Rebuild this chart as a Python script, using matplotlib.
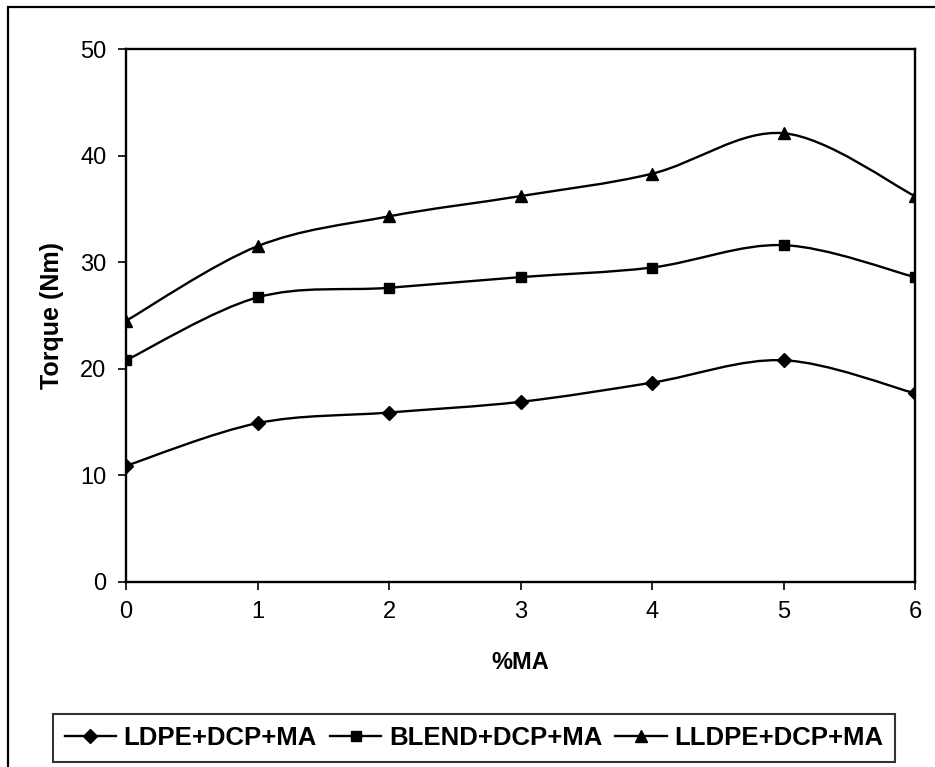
import matplotlib
matplotlib.use("Agg")
from matplotlib import pyplot as plt
from matplotlib.path import Path
from matplotlib.patches import PathPatch, Rectangle
from matplotlib.lines import Line2D
import numpy as np

plt.rcParams['font.family'] = ['Liberation Sans', 'DejaVu Sans']

ma = [0, 1, 2, 3, 4, 5, 6]
ldpe = [10.9, 14.9, 15.9, 16.9, 18.7, 20.8, 17.7]
blend = [20.8, 26.7, 27.6, 28.6, 29.5, 31.6, 28.6]
lldpe = [24.5, 31.5, 34.3, 36.2, 38.3, 42.1, 36.2]

series = [
    ("LDPE+DCP+MA", ldpe, 'D', 7),
    ("BLEND+DCP+MA", blend, 's', 7),
    ("LLDPE+DCP+MA", lldpe, '^', 8),
]


def smooth_path(x, y):
    """ Excel style smoothed line as cubic bezier segments """
    pts = np.column_stack([x, y]).astype(float)
    n = len(pts)
    verts = [pts[0]]
    codes = [Path.MOVETO]
    for i in range(n - 1):
        p0 = pts[i - 1] if i > 0 else pts[i]
        p1 = pts[i]
        p2 = pts[i + 1]
        p3 = pts[i + 2] if i + 2 < n else pts[i + 1]
        c1 = p1 + (p2 - p0) / 6
        c2 = p2 - (p3 - p1) / 6
        verts += [c1, c2, p2]
        codes += [Path.CURVE4] * 3
    return Path(verts, codes)


fig = plt.figure(figsize=(9.35, 7.67), dpi=100)
ax = fig.add_axes([126 / 935, 1 - 582 / 767, (915 - 126) / 935, (582 - 49) / 767])

handles = []
for name, vals, mk, ms in series:
    ax.add_patch(PathPatch(smooth_path(ma, vals), facecolor='none', edgecolor='black', lw=1.7))
    ax.plot(ma, vals, linestyle='none', marker=mk, markersize=ms, color='black')
    handles.append(Line2D([], [], color='black', lw=1.7, marker=mk, markersize=ms, label=name))

ax.set_xlim(0, 6)
ax.set_ylim(0, 50)
ax.set_xticks(ma)
ax.set_yticks([0, 10, 20, 30, 40, 50])
ax.tick_params(direction='out', length=6, width=1.2, labelsize=17, pad=8, colors='black')
for sp in ax.spines.values():
    sp.set_linewidth(1.7)
    sp.set_color('black')

ax.set_xlabel("%MA", fontsize=17, fontweight='bold', labelpad=20)
ax.set_ylabel("Torque (Nm)", fontsize=18, fontweight='bold', labelpad=12)

# Outer chart border
fig.patches.append(Rectangle((8 / 935, -0.1), 1.2, 1.1 - 7 / 767, transform=fig.transFigure,
                             facecolor='none', edgecolor='black', lw=1.6))

leg = fig.legend(handles=handles, loc='center', bbox_to_anchor=(474 / 935, 1 - 738 / 767),
                 ncol=3, frameon=True, fancybox=False, edgecolor='black', handlelength=2.0,
                 handletextpad=0.3, columnspacing=0.5, borderpad=0.45, borderaxespad=0,
                 prop={'size': 18.5, 'weight': 'bold'})
leg.get_frame().set_linewidth(1.5)

fig.savefig("out.png", dpi=100)
